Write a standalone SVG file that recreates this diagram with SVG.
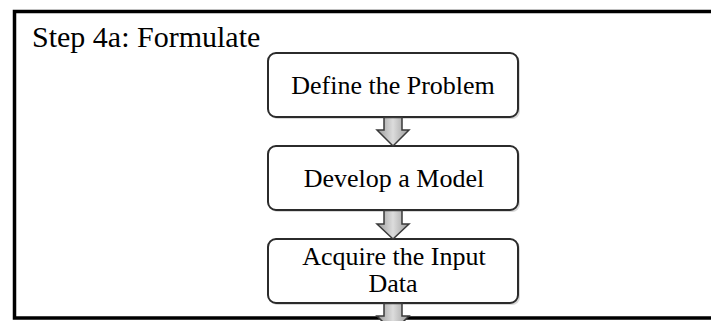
<svg xmlns="http://www.w3.org/2000/svg" width="711" height="321" viewBox="0 0 711 321">
<style>
.frame{fill:none;stroke:#000;stroke-width:3.5}
.shadow{fill:#c8c8c8;stroke:none;opacity:0.7}
.box{fill:#fff;stroke:#2b2b2b;stroke-width:2}
.lbl{font-family:"Liberation Serif","Times New Roman",serif;font-size:26px;fill:#000;text-anchor:middle}
.title{font-family:"Liberation Serif","Times New Roman",serif;font-size:30px;fill:#000}
.arr{fill:url(#ag);stroke:#3a3a3a;stroke-width:1.5;stroke-linejoin:miter}
</style>
<defs>
<linearGradient id="ag" x1="0" y1="0" x2="1" y2="0">
<stop offset="0" stop-color="#9a9a9a"/>
<stop offset="0.5" stop-color="#dcdcdc"/>
<stop offset="1" stop-color="#9a9a9a"/>
</linearGradient>
</defs>
<rect width="711" height="321" fill="#fff"/>
<rect class="frame" x="14.5" y="11.5" width="730" height="306.5"/>
<text class="title" x="32" y="47">Step 4a: Formulate</text>
<g id="node-define">
<rect class="shadow" x="270" y="55" width="250" height="64" rx="8"/>
<rect class="box" x="268" y="53" width="250" height="64" rx="8"/>
<text class="lbl" x="393" y="94">Define the Problem</text>
</g>
<g id="node-model">
<rect class="shadow" x="270" y="148" width="250" height="64" rx="8"/>
<rect class="box" x="268" y="146" width="250" height="64" rx="8"/>
<text class="lbl" x="394" y="187">Develop a Model</text>
</g>
<g id="node-data">
<rect class="shadow" x="270" y="241" width="250" height="64" rx="8"/>
<rect class="box" x="268" y="239" width="250" height="64" rx="8"/>
<text class="lbl" x="394" y="265">Acquire the Input</text>
<text class="lbl" x="393" y="292">Data</text>
</g>
<g id="connectors">
<path class="arr" d="M384,117.5 H402 V130 H409 L393,146 L377,130 H384 Z"/>
<path class="arr" d="M384,210.5 H402 V224 H409 L393,239 L377,224 H384 Z"/>
<path class="arr" d="M384,303.5 H402 V316 H409 L393,332 L377,316 H384 Z"/>
</g>
</svg>
